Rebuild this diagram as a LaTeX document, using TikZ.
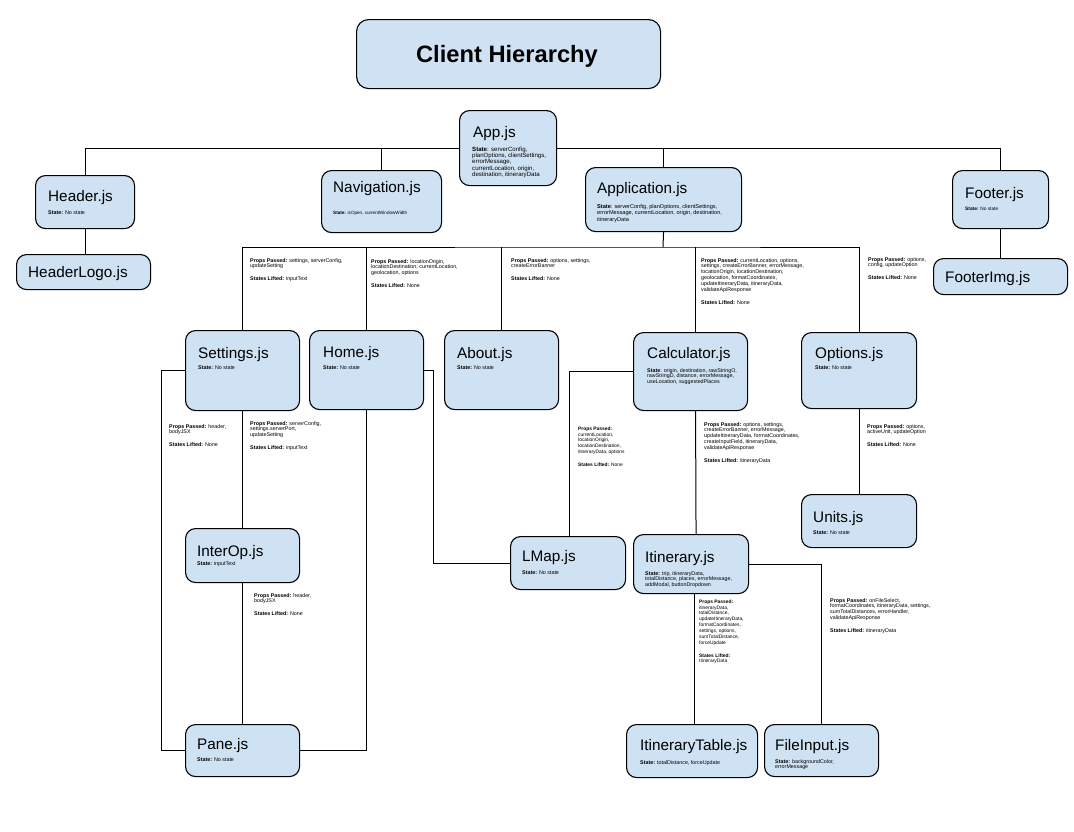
\documentclass[tikz,border=0pt]{standalone}
\usepackage{fontspec}
\setmainfont{Liberation Sans}
\definecolor{boxblue}{HTML}{CFE2F3}
\tikzset{
  cbox/.style={draw=black, fill=boxblue, rounded corners=10pt, line width=1.1pt, anchor=north west, inner sep=0pt},
  nm/.style={font=\fontsize{15.3}{18}\selectfont, anchor=base west, inner sep=0pt},
  sm/.style={font=\fontsize{5.35}{5.85}\selectfont, align=left, anchor=north west, inner sep=0pt},
  smnarrow/.style={sm, font=\fontsize{4.9}{5.85}\selectfont},
  conn/.style={line width=1pt, draw=black},
}
\begin{document}
\begin{tikzpicture}[x=1pt,y=-1pt]
\useasboundingbox[fill=white] (0,0) rectangle (1074,831);

% title
\node[cbox, minimum width=304pt, minimum height=69pt, rounded corners=12pt] (title) at (356,19) {};
\node[font=\bfseries\fontsize{23.7}{28}\selectfont, inner sep=0pt, anchor=base] (title-t) at (507,62) {Client Hierarchy};

% boxes
\node[cbox, minimum width=97pt, minimum height=75pt] (app) at (459,110) {};
\node[nm] (app-t) at (473,137) {App.js};
\node[sm, font=\fontsize{6.1}{6.3}\selectfont] (app-s) at (472,146.5) {\textbf{State}: serverConfig,\\ planOptions, clientSettings,\\ errorMessage,\\ currentLocation, origin,\\ destination, itineraryData};

\node[cbox, minimum width=99pt, minimum height=53pt] (hdr) at (35,175) {};
\node[nm] (hdr-t) at (48,201) {Header.js};
\node[sm] (hdr-s) at (48,211) {\textbf{State:} No state};

\node[cbox, minimum width=120pt, minimum height=62pt] (nav) at (321,170) {};
\node[nm] (nav-t) at (333,192) {Navigation.js};
\node[sm, font=\fontsize{4.6}{5.5}\selectfont] (nav-s) at (333,210.5) {\textbf{State:} isOpen, currentWindowWidth};

\node[cbox, minimum width=156pt, minimum height=64pt] (apl) at (585,167) {};
\node[nm] (apl-t) at (597,193) {Application.js};
\node[sm, font=\fontsize{5.6}{6.2}\selectfont] (apl-s) at (597,204.5) {\textbf{State}: serverConfig, planOptions, clientSettings,\\ errorMessage, currentLocation, origin, destination,\\ itineraryData};

\node[cbox, minimum width=96pt, minimum height=58pt] (ftr) at (952,170) {};
\node[nm] (ftr-t) at (965,198) {Footer.js};
\node[sm, font=\fontsize{4.8}{5.5}\selectfont] (ftr-s) at (965,206.5) {\textbf{State:} No state};

\node[cbox, minimum width=134pt, minimum height=35pt] (hlogo) at (16,254) {};
\node[nm] (hlogo-t) at (28,277) {HeaderLogo.js};

\node[cbox, minimum width=134pt, minimum height=36pt] (fimg) at (933,258) {};
\node[nm] (fimg-t) at (945,282) {FooterImg.js};

\node[cbox, minimum width=114pt, minimum height=80pt] (set) at (185,330) {};
\node[nm] (set-t) at (198,358) {Settings.js};
\node[sm] (set-s) at (198,366) {\textbf{State:} No state};

\node[cbox, minimum width=114pt, minimum height=79pt] (home) at (309,330) {};
\node[nm] (home-t) at (323,357) {Home.js};
\node[sm] (home-s) at (323,366) {\textbf{State:} No state};

\node[cbox, minimum width=114pt, minimum height=79pt] (about) at (444,330) {};
\node[nm] (about-t) at (457,358) {About.js};
\node[sm] (about-s) at (457,366) {\textbf{State:} No state};

\node[cbox, minimum width=114pt, minimum height=78pt] (calc) at (633,332) {};
\node[nm] (calc-t) at (647,358) {Calculator.js};
\node[sm] (calc-s) at (647,368) {\textbf{State}: origin, destination, rawStringO,\\ rawStringD, distance, errorMessage,\\ useLocation, suggestedPlaces};

\node[cbox, minimum width=115pt, minimum height=76pt] (opt) at (801,332) {};
\node[nm] (opt-t) at (815,358) {Options.js};
\node[sm] (opt-s) at (815,366) {\textbf{State:} No state};

\node[cbox, minimum width=114pt, minimum height=54pt] (interop) at (185,528) {};
\node[nm] (interop-t) at (197,556) {InterOp.js};
\node[sm] (interop-s) at (197,561) {\textbf{State:} inputText};

\node[cbox, minimum width=115pt, minimum height=53pt] (lmap) at (510,536) {};
\node[nm] (lmap-t) at (522,561) {LMap.js};
\node[sm] (lmap-s) at (522,571) {\textbf{State:} No state};

\node[cbox, minimum width=115pt, minimum height=59pt] (itin) at (633,534) {};
\node[nm] (itin-t) at (645,562) {Itinerary.js};
\node[sm] (itin-s) at (645,571) {\textbf{State:} trip, itineraryData,\\ totalDistance, places, errorMessage,\\ addModal, buttonDropdown};

\node[cbox, minimum width=115pt, minimum height=53pt] (units) at (801,494) {};
\node[nm] (units-t) at (813,522) {Units.js};
\node[sm] (units-s) at (813,531) {\textbf{State:} No state};

\node[cbox, minimum width=114pt, minimum height=52pt] (pane) at (185,724) {};
\node[nm] (pane-t) at (197,749) {Pane.js};
\node[sm] (pane-s) at (197,758) {\textbf{State:} No state};

\node[cbox, minimum width=131pt, minimum height=53pt] (itab) at (626,724) {};
\node[nm] (itab-t) at (640,750) {ItineraryTable.js};
\node[sm] (itab-s) at (640,760) {\textbf{State:} totalDistance, forceUpdate};

\node[cbox, minimum width=114pt, minimum height=52pt] (finp) at (764,724) {};
\node[nm] (finp-t) at (775,750) {FileInput.js};
\node[sm] (finp-s) at (775,759) {\textbf{State:} backgroundColor,\\ errorMessage};

% connectors
\draw[conn] (hdr.north) |- (app.west);
\draw[conn] (ftr.north) |- (app.east);
\draw[conn] (nav.north) -- (nav.north |- app.west);
\draw[conn] (apl.north) -- (apl.north |- app.east);
\draw[conn] (hdr.south) -- (hdr.south |- hlogo.north);
\draw[conn] (ftr.south) -- (ftr.south |- fimg.north);

\coordinate (bus2) at (663,247);
\draw[conn] (apl.south) -- (bus2);
\draw[conn] (set.north) |- (bus2) -| (opt.north);
\draw[conn] (home.north) -- (home.north |- bus2);
\draw[conn] (about.north) -- (about.north |- bus2);
\draw[conn] ([xshift=5pt]calc.north) -- ([xshift=5pt]calc.north |- bus2);

\draw[conn] (set.west) -- ++(-24,0) |- (pane.west);
\draw[conn] (set.south) -- (interop.north);
\draw[conn] (interop.south) -- (pane.north);
\draw[conn] (home.east) -- ++(9,0) |- (lmap.west);
\draw[conn] (home.south) |- (pane.east);
\draw[conn] (calc.west) -| ([xshift=1.5pt]lmap.north);
\draw[conn] ([xshift=5pt]calc.south) -- ([xshift=5pt]itin.north);
\draw[conn] ([xshift=3pt]itin.south) -- ([xshift=3pt]itin.south |- itab.north);
\draw[conn] (itin.east) -| (finp.north);
\draw[conn] (opt.south) -- (units.north);

% connector labels
\node[sm] (lbl1) at (250,258) {\textbf{Props Passed:} settings, serverConfig,\\ updateSetting\\[7pt] \textbf{States Lifted:} inputText};
\node[sm] (lbl2) at (371,259) {\textbf{Props Passed:} locationOrigin,\\ locationDestination, currentLocation,\\ geolocation, options\\[7pt] \textbf{States Lifted:} None};
\node[sm] (lbl3) at (511,258) {\textbf{Props Passed:} options, settings,\\ createErrorBanner\\[7pt] \textbf{States Lifted:} None};
\node[sm] (lbl4) at (701,258) {\textbf{Props Passed:} currentLocation, options,\\ settings, createErrorBanner, errorMessage,\\ locationOrigin, locationDestination,\\ geolocation, formatCoordinates,\\ updateItineraryData, itineraryData,\\ validateApiResponse\\[7pt] \textbf{States Lifted:} None};
\node[sm] (lbl5) at (868,257) {\textbf{Props Passed:} options,\\ config, updateOption\\[7pt] \textbf{States Lifted:} None};
\node[sm] (lbl6) at (169,424) {\textbf{Props Passed:} header,\\ bodyJSX\\[7pt] \textbf{States Lifted:} None};
\node[sm] (lbl7) at (250,421) {\textbf{Props Passed:} serverConfig,\\ settings.serverPort,\\ updateSetting\\[7pt] \textbf{States Lifted:} inputText};
\node[smnarrow] (lbl8) at (578,426.5) {\textbf{Props Passed:}\\ currentLocation,\\ locationOrigin,\\ locationDestination,\\ itineraryData, options\\[7pt] \textbf{States Lifted:} None};
\node[sm] (lbl9) at (704,422) {\textbf{Props Passed:} options, settings,\\ createErrorBanner, errorMessage,\\ updateItineraryData, formatCoordinates,\\ createInputField, itineraryData,\\ validateApiResponse\\[7pt] \textbf{States Lifted:} itineraryData};
\node[sm] (lbl10) at (867,424) {\textbf{Props Passed:} options,\\ activeUnit, updateOption\\[7pt] \textbf{States Lifted:} None};
\node[sm] (lbl11) at (254,593) {\textbf{Props Passed:} header,\\ bodyJSX\\[7pt] \textbf{States Lifted:} None};
\node[smnarrow] (lbl12) at (699,599.5) {\textbf{Props Passed:}\\ itineraryData,\\ totalDistance,\\ updateItineraryData,\\ formatCoordinates,\\ settings, options,\\ sumTotalDistance,\\ forceUpdate\\[7pt] \textbf{States Lifted:}\\ ItineraryData};
\node[sm] (lbl13) at (830,598) {\textbf{Props Passed:} onFileSelect,\\ formatCoordinates, itineraryData, settings,\\ sumTotalDistances, errorHandler,\\ validateApiResponse\\[7pt] \textbf{States Lifted:} itineraryData};
\end{tikzpicture}
\end{document}
